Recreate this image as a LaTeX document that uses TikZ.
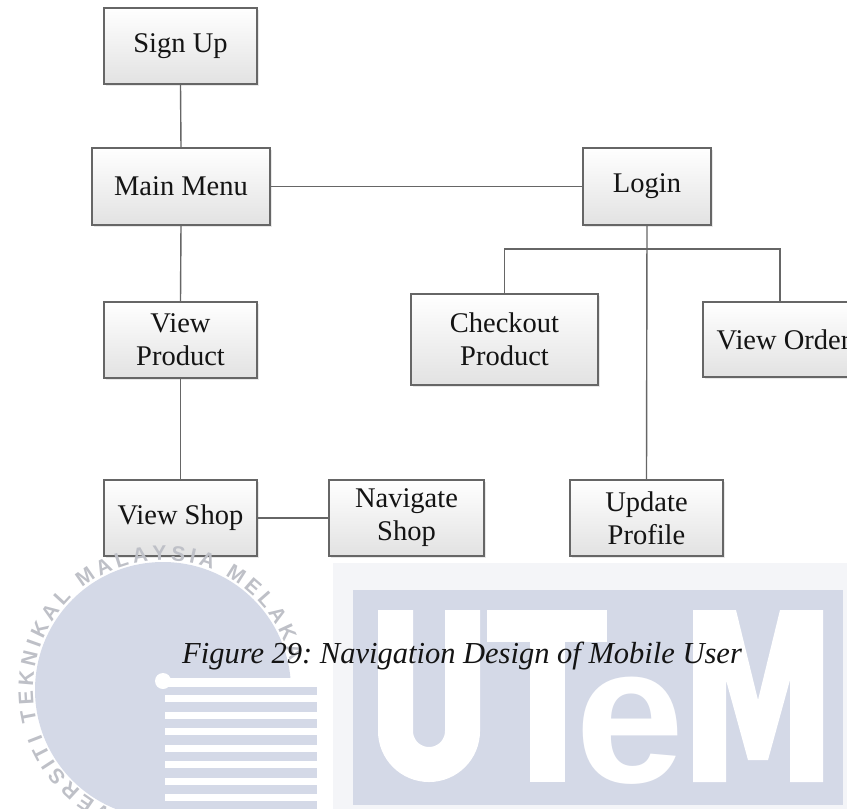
\documentclass[tikz,border=0pt]{standalone}
\usepackage{fontspec}
\setmainfont{Liberation Serif}
\setsansfont{Liberation Sans}
\usetikzlibrary{decorations.text,shadows}
\definecolor{boxline}{HTML}{666666}
\definecolor{boxbot}{HTML}{E2E2E2}
\definecolor{txt}{HTML}{141414}
\definecolor{wmblue}{HTML}{D4D9E7}
\definecolor{wmpale}{HTML}{F4F5F8}
\definecolor{ringgray}{HTML}{BEC0C7}
\newcommand\boxfont{\fontsize{28.5}{33}\selectfont}
\newcommand\ringfont{\fontsize{21}{21}\selectfont\sffamily\bfseries}
\frenchspacing
\begin{document}
\begin{tikzpicture}[x=1pt,y=-1pt,
  box/.style={draw=boxline,line width=1.4pt,top color=white,bottom color=boxbot,
    inner sep=0pt,align=center,font=\boxfont,text=txt,
    drop shadow={shadow xshift=1.5pt,shadow yshift=-1.5pt,opacity=0.18}},
  link/.style={draw=boxline,line width=1.4pt}]
\useasboundingbox (0,0) rectangle (847,809);
% ---------- watermark ----------
\fill[wmpale] (333,563) rectangle (847,809);
\fill[wmblue] (353,590) rectangle (843,805);
% U
\draw[white,line width=35pt] (395.5,610) -- (395.5,731) arc[start angle=180,end angle=0,radius=33.5] -- (462.5,610);
% T
\fill[white] (487,610) rectangle (607,642);
\fill[white] (530,610) rectangle (565,782);
% e
\node[text=white,font=\fontsize{196}{196}\selectfont\sffamily\bfseries,inner sep=0pt,anchor=base] (wme) at (630,782) {e};
% M
\fill[white] (693,782) -- (693,610) -- (736,610) -- (758,700) -- (780,610) -- (823,610) -- (823,782) -- (790,782) -- (790,680) -- (768,760) -- (748,760) -- (726,680) -- (726,782) -- cycle;
% circle logo
\fill[wmblue] (163,690) circle[radius=128];
\fill[wmblue] (165,678) rectangle (317,809);
\fill[white] (165,678) rectangle (317,687);
\foreach \k in {0,...,6} \fill[white] (165,{695+16.5*\k}) rectangle (317,{702+16.5*\k});
\fill[white] (163,681) circle[radius=8];
% ---------- diagram ----------
\node[box,minimum width=153pt,minimum height=76pt] (signup) at (180.5,46) {Sign Up};
\node[box,minimum width=178pt,minimum height=77pt] (mainmenu) at (181,186.5) {Main Menu};
\node[box,minimum width=128pt,minimum height=77pt] (login) at (647,186.5) {Login};
\node[box,minimum width=153pt,minimum height=76pt] (viewproduct) at (180.5,340) {View\\Product};
\node[box,minimum width=187pt,minimum height=91pt] (checkout) at (504.5,339.5) {Checkout\\Product};
\node[box,minimum width=161pt,minimum height=75pt] (vieworder) at (783.5,339.5) {View Order};
\node[box,minimum width=153pt,minimum height=76pt] (viewshop) at (180.5,518) {View Shop};
\node[box,minimum width=155pt,minimum height=76pt] (navshop) at (406.5,518) {Navigate\\Shop};
\node[box,minimum width=153pt,minimum height=76pt] (update) at (646.5,518) {Update\\Profile};
\coordinate (bl) at (504.5,249);
\coordinate (br) at (780,249);
\draw[link] (signup.south) -- (mainmenu.north);
\draw[link] (mainmenu.east) -- (login.west);
\draw[link] (mainmenu.south) -- (viewproduct.north);
\draw[link] (viewproduct.south) -- (viewshop.north);
\draw[link] (viewshop.east) -- (navshop.west);
\draw[link] (login.south) -- (update.north);
\draw[link] (checkout.north) -- (bl) -- (br) -- (br |- vieworder.north);
% ring lettering of the watermark (over the boxes, as in the reference)
\begin{scope}[shift={(163,690)},y=1pt]
  \path[decorate,decoration={text along path,text={|\ringfont|UNIVERSITI TEKNIKAL MALAYSIA MELAKA},
    text align={fit to path},text color=ringgray}]
    (268:130) arc[start angle=268,end angle=13,radius=130];
\end{scope}
% caption
\node[font=\fontsize{30.5}{36}\selectfont\itshape,text=txt,inner sep=0pt,anchor=base west] (caption) at (182,663) {Figure 29: Navigation Design of Mobile User};
\end{tikzpicture}
\end{document}
